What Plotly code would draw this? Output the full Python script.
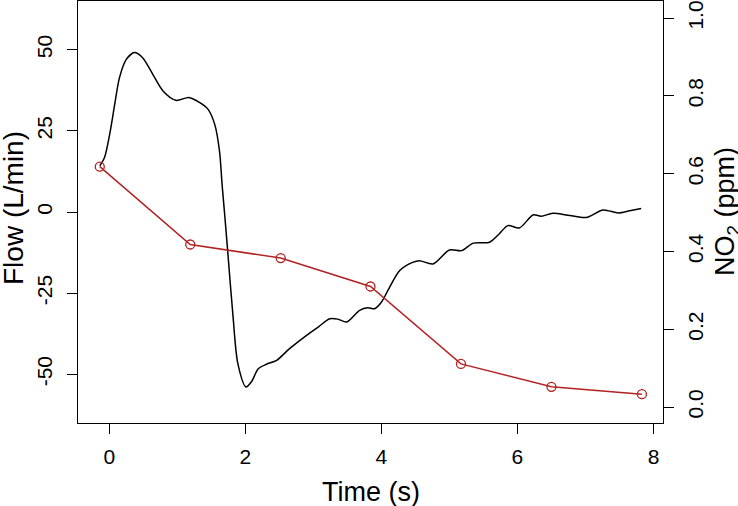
import plotly.graph_objects as go

# Flow trace (L/min) vs time (s)
flow_time = [-0.14, -0.07, 0.015, 0.08, 0.15, 0.25, 0.37, 0.49, 0.64, 0.79, 0.98,
             1.17, 1.33, 1.45, 1.55, 1.62, 1.66, 1.70, 1.74, 1.82, 1.89, 2.01,
             2.09, 2.19, 2.31, 2.46, 2.65, 2.90, 3.08, 3.24, 3.36, 3.49, 3.68,
             3.80, 3.90, 4.00, 4.12, 4.27, 4.46, 4.56, 4.76, 5.00, 5.18, 5.35,
             5.59, 5.72, 5.86, 6.03, 6.23, 6.35, 6.52, 6.77, 7.01, 7.26, 7.48,
             7.65, 7.82]
flow_vals = [14.2, 16.8, 25.0, 33.2, 41.4, 47.0, 49.1, 47.5, 42.4, 37.3, 34.4,
             35.3, 33.7, 31.7, 27.0, 18.8, 8.0, -1.7, -11.9, -32.4, -46.7, -53.9,
             -52.3, -48.3, -46.9, -45.7, -42.1, -38.0, -35.3, -32.9, -33.0, -33.9, -30.3,
             -29.5, -29.8, -27.8, -23.2, -18.0, -15.5, -15.0, -16.0, -11.7, -11.9, -9.6,
             -9.3, -7.0, -4.2, -4.9, -0.9, -1.3, -0.4, -1.1, -1.7, 0.6, -0.3,
             0.4, 1.1]

# NO2 samples (ppm)
no2_time = [-0.14, 1.19, 2.52, 3.84, 5.17, 6.50, 7.83]
no2_vals = [0.618, 0.418, 0.383, 0.310, 0.111, 0.052, 0.033]

x_ticks = [0, 2, 4, 6, 8]
flow_ticks = [-50, -25, 0, 25, 50]
flow_ticklabels = ["-50", "-25", "0", "25", "50"]
no2_ticks = [0.0, 0.2, 0.4, 0.6, 0.8, 1.0]
no2_ticklabels = ["0.0", "0.2", "0.4", "0.6", "0.8", "1.0"]

FONT = "Liberation Sans, Arial, Helvetica, sans-serif"
RED = "#B22222"

fig = go.Figure()
fig.add_trace(go.Scatter(
    x=flow_time, y=flow_vals, mode="lines",
    line=dict(color="black", width=1.5, shape="spline", smoothing=0.8),
    yaxis="y", showlegend=False, hoverinfo="skip"))
fig.add_trace(go.Scatter(
    x=no2_time, y=no2_vals, mode="lines+markers",
    line=dict(color=RED, width=1.5),
    marker=dict(symbol="circle-open", size=9, color=RED, line=dict(width=1.3, color=RED)),
    yaxis="y2", showlegend=False))

axis_common = dict(showgrid=False, zeroline=False, ticks="outside", ticklen=10,
                   tickcolor="black", tickwidth=1, showline=True, linecolor="black",
                   linewidth=1, automargin=False,
                   tickfont=dict(family=FONT, size=21, color="black"))

fig.update_layout(
    width=738, height=506,
    margin=dict(l=78, r=75, t=1, b=83),
    paper_bgcolor="white", plot_bgcolor="white",
    font=dict(family=FONT, color="black"),
    xaxis=dict(range=[-0.46, 8.14], tickvals=x_ticks, mirror=True,
               ticklabelstandoff=5, **axis_common),
    yaxis=dict(range=[-65, 65], tickvals=flow_ticks, ticktext=flow_ticklabels,
               mirror=True, tickangle=-90, ticklabelstandoff=7, **axis_common),
    yaxis2=dict(range=[-0.041, 1.044], tickvals=no2_ticks, ticktext=no2_ticklabels,
                overlaying="y", side="right", tickangle=-90,
                ticklabelstandoff=4, **axis_common),
    annotations=[
        dict(text="Time (s)", xref="paper", yref="paper", x=0.5, y=0,
             yshift=-69, xanchor="center", yanchor="middle", showarrow=False,
             font=dict(family=FONT, size=27, color="black")),
        dict(text="Flow (L/min)", xref="paper", yref="paper", x=0, y=0.5,
             xshift=-65, yshift=4, xanchor="center", yanchor="middle", textangle=-90,
             showarrow=False, font=dict(family=FONT, size=28, color="black")),
        dict(text="NO<sub>2</sub> (ppm)", xref="paper", yref="paper", x=1, y=0.5,
             xshift=64, xanchor="center", yanchor="middle", textangle=-90,
             showarrow=False, font=dict(family=FONT, size=27, color="black")),
    ],
)

fig.write_html("out.html", config={"displayModeBar": False},
               post_script="document.body.style.margin='0';document.body.style.padding='0';")
